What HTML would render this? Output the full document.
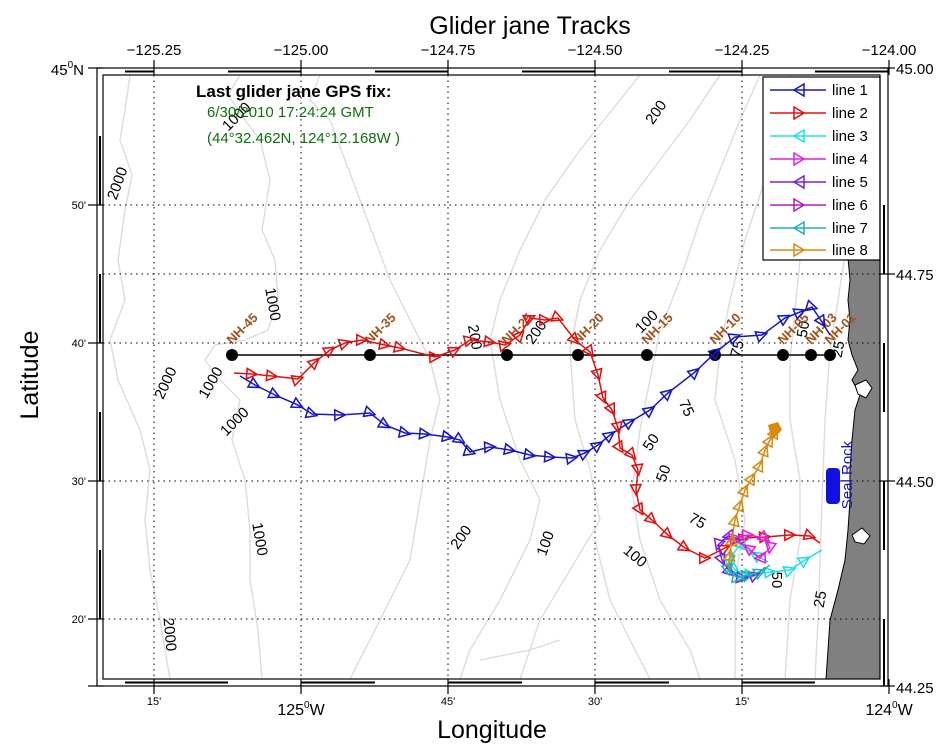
<!DOCTYPE html>
<html><head><meta charset="utf-8"><style>
html,body{margin:0;padding:0;background:#fff;}
svg{display:block;font-family:"Liberation Sans",sans-serif;}
</style></head><body>
<svg width="950" height="748" viewBox="0 0 950 748" xmlns="http://www.w3.org/2000/svg">
<defs>
<marker id="mb" viewBox="0 0 10 10" refX="5" refY="5" markerWidth="13" markerHeight="13" orient="auto-start-reverse" markerUnits="userSpaceOnUse"><path d="M9,1 L1,5 L9,9 Z" fill="none" stroke="#1818c0" stroke-width="1.2"/></marker>
<marker id="mr" viewBox="0 0 10 10" refX="5" refY="5" markerWidth="13" markerHeight="13" orient="auto" markerUnits="userSpaceOnUse"><path d="M1,1 L9,5 L1,9 Z" fill="none" stroke="#e01010" stroke-width="1.2"/></marker>
<marker id="mc" viewBox="0 0 10 10" refX="5" refY="5" markerWidth="13" markerHeight="13" orient="auto" markerUnits="userSpaceOnUse"><path d="M9,1 L1,5 L9,9 Z" fill="none" stroke="#20e0e0" stroke-width="1.2"/></marker>
<marker id="mm" viewBox="0 0 10 10" refX="5" refY="5" markerWidth="13" markerHeight="13" orient="auto" markerUnits="userSpaceOnUse"><path d="M1,1 L9,5 L1,9 Z" fill="none" stroke="#e020e0" stroke-width="1.2"/></marker>
<marker id="mp" viewBox="0 0 10 10" refX="5" refY="5" markerWidth="13" markerHeight="13" orient="auto" markerUnits="userSpaceOnUse"><path d="M9,1 L1,5 L9,9 Z" fill="none" stroke="#7a20e0" stroke-width="1.2"/></marker>
<marker id="mt" viewBox="0 0 10 10" refX="5" refY="5" markerWidth="13" markerHeight="13" orient="auto" markerUnits="userSpaceOnUse"><path d="M9,1 L1,5 L9,9 Z" fill="none" stroke="#20b0b8" stroke-width="1.2"/></marker>
<marker id="mo" viewBox="0 0 10 10" refX="5" refY="5" markerWidth="13" markerHeight="13" orient="auto" markerUnits="userSpaceOnUse"><path d="M1,1 L9,5 L1,9 Z" fill="none" stroke="#d98a10" stroke-width="1.2"/></marker>
</defs>

<text x="530" y="34" font-size="25" text-anchor="middle">Glider jane Tracks</text>

<g fill="none" stroke="#dcdcdc" stroke-width="1.4">
<path d="M130,75 L125,110 L120,140 L132,175 L125,210 L118,260 L125,300 L110,340 L118,380 L140,430 L150,470 L145,520 L150,570 L160,620 L170,679"/>
<path d="M240,75 L228,95 L245,120 L260,140 L270,180 L262,230 L275,260 L278,300 L268,330 L245,340 L215,345 L205,360 L220,380 L240,400 L232,440 L245,480 L250,530 L250,580 L258,630 L262,679"/>
<path d="M320,75 L310,100 L330,120 L345,160 L360,200 L375,240 L390,280 L410,320 L430,360 L440,400 L430,440 L420,500 L410,560 L380,620 L350,679"/>
<path d="M640,75 L620,100 L580,150 L545,200 L520,250 L500,300 L490,340 L500,400 L520,460 L540,500 L530,540 L500,600 L470,650 L460,679"/>
<path d="M720,75 L690,120 L660,160 L630,200 L600,250 L580,300 L570,350 L575,420 L590,470 L600,520 L570,570 L540,620 L520,679"/>
<path d="M760,75 L740,120 L720,170 L700,220 L680,280 L660,330 L650,380 L640,430 L632,490 L640,540 L660,600 L690,650 L700,679"/>
<path d="M790,75 L780,130 L765,180 L745,240 L730,300 L720,350 L715,400 L735,460 L745,520 L735,580 L735,679"/>
<path d="M820,80 L812,140 L805,200 L800,260 L795,310 L790,360 L790,420 L800,480 L800,540 L790,600 L785,679"/>
<path d="M845,255 L838,300 L830,350 L825,420 L822,500 L820,560 L818,620 L815,679"/>
<path d="M595,540 L610,600 L630,640 L650,679"/>
<path d="M480,660 L530,650 L560,640"/>
</g>
<g font-size="15" fill="#000">
<text transform="translate(122,185) rotate(-70)" text-anchor="middle">2000</text>
<text transform="translate(240,120) rotate(-45)" text-anchor="middle">1000</text>
<text transform="translate(268,305) rotate(80)" text-anchor="middle">1000</text>
<text transform="translate(170,385) rotate(-65)" text-anchor="middle">2000</text>
<text transform="translate(215,385) rotate(-60)" text-anchor="middle">1000</text>
<text transform="translate(238,425) rotate(-45)" text-anchor="middle">1000</text>
<text transform="translate(255,540) rotate(80)" text-anchor="middle">1000</text>
<text transform="translate(165,635) rotate(85)" text-anchor="middle">2000</text>
<text transform="translate(660,115) rotate(-55)" text-anchor="middle">200</text>
<text transform="translate(470,338) rotate(80)" text-anchor="middle">200</text>
<text transform="translate(540,335) rotate(-55)" text-anchor="middle">200</text>
<text transform="translate(465,540) rotate(-55)" text-anchor="middle">200</text>
<text transform="translate(550,545) rotate(-70)" text-anchor="middle">100</text>
<text transform="translate(632,560) rotate(40)" text-anchor="middle">100</text>
<text transform="translate(650,325) rotate(-45)" text-anchor="middle">100</text>
<text transform="translate(682,410) rotate(65)" text-anchor="middle">75</text>
<text transform="translate(742,350) rotate(-75)" text-anchor="middle">75</text>
<text transform="translate(695,525) rotate(30)" text-anchor="middle">75</text>
<text transform="translate(655,445) rotate(-55)" text-anchor="middle">50</text>
<text transform="translate(668,475) rotate(-70)" text-anchor="middle">50</text>
<text transform="translate(808,330) rotate(-80)" text-anchor="middle">50</text>
<text transform="translate(772,580) rotate(90)" text-anchor="middle">50</text>
<text transform="translate(825,600) rotate(-80)" text-anchor="middle">25</text>
<text transform="translate(843,350) rotate(-80)" text-anchor="middle">25</text>
</g>

<path d="M848,258 L880,258 L880,679 L826,679 L828,650 L830,620 L838,590 L845,560 L848,530 L850,500 L850,470 L852,440 L855,410 L860,395 L852,380 L858,370 L852,355 L848,340 L850,320 L848,300 L850,280 Z" fill="#808080" stroke="#000" stroke-width="1"/>
<path d="M855,385 L866,380 L872,388 L866,398 L858,394 Z M852,535 L862,528 L870,536 L864,544 L855,542 Z" fill="#fff" stroke="#000" stroke-width="1"/>

<g stroke="#000" stroke-width="1" stroke-dasharray="1.5,4">
<line x1="154" y1="75" x2="154" y2="679"/><line x1="301" y1="75" x2="301" y2="679"/>
<line x1="448" y1="75" x2="448" y2="679"/><line x1="595" y1="75" x2="595" y2="679"/>
<line x1="742" y1="75" x2="742" y2="679"/>
<line x1="103" y1="205" x2="880" y2="205"/><line x1="103" y1="274" x2="880" y2="274"/>
<line x1="103" y1="343" x2="880" y2="343"/><line x1="103" y1="481" x2="880" y2="481"/>
<line x1="103" y1="619" x2="880" y2="619"/>
</g>

<line x1="232" y1="355" x2="830" y2="355" stroke="#000" stroke-width="1.5"/>
<g fill="#000">
<circle cx="232" cy="355" r="6"/><circle cx="370" cy="355" r="6"/><circle cx="507" cy="355" r="6"/>
<circle cx="578" cy="355" r="6"/><circle cx="647" cy="355" r="6"/><circle cx="715" cy="355" r="6"/>
<circle cx="783" cy="355" r="6"/><circle cx="811" cy="355" r="6"/><circle cx="830" cy="355" r="6"/>
</g>
<g font-size="13" font-weight="bold" fill="#a0521a">
<text transform="translate(232,345) rotate(-45)">NH-45</text>
<text transform="translate(370,345) rotate(-45)">NH-35</text>
<text transform="translate(507,345) rotate(-45)">NH-25</text>
<text transform="translate(578,345) rotate(-45)">NH-20</text>
<text transform="translate(647,345) rotate(-45)">NH-15</text>
<text transform="translate(715,345) rotate(-45)">NH-10</text>
<text transform="translate(783,345) rotate(-45)">NH-05</text>
<text transform="translate(811,345) rotate(-45)">NH-03</text>
<text transform="translate(830,345) rotate(-45)">NH-01</text>
</g>

<polyline fill="none" stroke="#1818c0" stroke-width="1.5" marker-mid="url(#mb)" points="830,335 822,322 812,307 800,312 785,318 762,335 735,337 716,352 695,372 668,393 650,410 630,422 610,435 598,445 585,453 572,458 550,457 530,455 510,450 490,447 470,452 460,440 448,437 425,434 405,433 385,425 370,413 340,415 312,414 298,405 275,395 255,385 240,376"/>
<polyline fill="none" stroke="#e01010" stroke-width="1.5" marker-mid="url(#mr)" points="234,373 252,374 272,376 298,379 315,362 330,350 345,343 362,340 385,345 400,348 435,357 455,350 470,340 490,342 505,345 520,335 530,318 545,320 558,318 575,340 590,352 598,375 603,398 612,410 618,428 620,448 632,455 638,470 636,490 640,510 652,520 668,535 685,548 705,558 725,548 745,538 765,537 790,535 810,536 820,543"/>
<polyline fill="none" stroke="#20e0e0" stroke-width="1.5" marker-mid="url(#mc)" points="822,550 805,560 790,570 770,572 750,575 735,570 728,560 740,545 755,555 768,562"/>
<polyline fill="none" stroke="#e020e0" stroke-width="1.5" marker-mid="url(#mm)" points="722,540 735,538 748,535 765,538 770,548 760,558 748,548 735,540"/>
<polyline fill="none" stroke="#7a20e0" stroke-width="1.5" marker-mid="url(#mp)" points="765,568 755,575 742,578 730,572 722,560 718,545 728,536 740,540"/>
<polyline fill="none" stroke="#20b0b8" stroke-width="1.5" marker-mid="url(#mt)" points="770,565 760,572 748,575 738,578 728,570 735,555"/>
<polyline fill="none" stroke="#d98a10" stroke-width="1.5" marker-mid="url(#mo)" points="728,568 730,555 732,540 735,520 740,505 745,490 752,478 760,465 765,450 770,440 775,432 778,425"/>
<path d="M768,425 L778,422 L782,430 L772,440 Z" fill="#d98a10"/>

<rect x="826" y="468" width="14" height="36" rx="4" fill="#1010e0"/>
<text transform="translate(852,475) rotate(-90)" font-size="15" fill="#1010c0" text-anchor="middle">Seal Rock</text>

<text x="196" y="97" font-size="17" font-weight="bold">Last glider jane GPS fix:</text>
<text x="207" y="117" font-size="15" fill="#107010">6/30/2010 17:24:24 GMT</text>
<text x="207" y="143" font-size="15" fill="#107010">(44°32.462N, 124°12.168W )</text>

<rect x="763" y="77" width="117" height="183" fill="#fff" stroke="#000" stroke-width="1.2"/>
<g font-size="15" stroke-width="1.5">
<line x1="770" y1="90" x2="826" y2="90" stroke="#1818c0"/><path d="M804,84 L794,90 L804,96 Z" fill="none" stroke="#1818c0"/><text x="832" y="95">line 1</text>
<line x1="770" y1="113" x2="826" y2="113" stroke="#e01010"/><path d="M794,107 L804,113 L794,119 Z" fill="none" stroke="#e01010"/><text x="832" y="118">line 2</text>
<line x1="770" y1="136" x2="826" y2="136" stroke="#20e0e0"/><path d="M804,130 L794,136 L804,142 Z" fill="none" stroke="#20e0e0"/><text x="832" y="141">line 3</text>
<line x1="770" y1="159" x2="826" y2="159" stroke="#e020e0"/><path d="M794,153 L804,159 L794,165 Z" fill="none" stroke="#e020e0"/><text x="832" y="164">line 4</text>
<line x1="770" y1="182" x2="826" y2="182" stroke="#7a20e0"/><path d="M804,176 L794,182 L804,188 Z" fill="none" stroke="#7a20e0"/><text x="832" y="187">line 5</text>
<line x1="770" y1="205" x2="826" y2="205" stroke="#b020c0"/><path d="M794,199 L804,205 L794,211 Z" fill="none" stroke="#b020c0"/><text x="832" y="210">line 6</text>
<line x1="770" y1="228" x2="826" y2="228" stroke="#20b0b8"/><path d="M804,222 L794,228 L804,234 Z" fill="none" stroke="#20b0b8"/><text x="832" y="233">line 7</text>
<line x1="770" y1="250" x2="826" y2="250" stroke="#d98a10"/><path d="M794,244 L804,250 L794,256 Z" fill="none" stroke="#d98a10"/><text x="832" y="255">line 8</text>
</g>

<rect x="97" y="68" width="791" height="618" fill="none" stroke="#000" stroke-width="1.2"/>
<rect x="103" y="75" width="777" height="604" fill="none" stroke="#000" stroke-width="1.2"/>
<g stroke="#000" stroke-width="2">
<line x1="125" y1="71.5" x2="154" y2="71.5"/><line x1="228" y1="71.5" x2="301" y2="71.5"/>
<line x1="375" y1="71.5" x2="448" y2="71.5"/><line x1="522" y1="71.5" x2="595" y2="71.5"/>
<line x1="669" y1="71.5" x2="742" y2="71.5"/><line x1="815" y1="71.5" x2="888" y2="71.5"/>
<line x1="125" y1="682.5" x2="228" y2="682.5"/><line x1="301" y1="682.5" x2="375" y2="682.5"/>
<line x1="448" y1="682.5" x2="522" y2="682.5"/><line x1="595" y1="682.5" x2="669" y2="682.5"/>
<line x1="742" y1="682.5" x2="815" y2="682.5"/>
<line x1="100" y1="136" x2="100" y2="205"/><line x1="100" y1="274" x2="100" y2="343"/>
<line x1="100" y1="412" x2="100" y2="481"/><line x1="100" y1="550" x2="100" y2="619"/>
<line x1="884" y1="205" x2="884" y2="274"/><line x1="884" y1="343" x2="884" y2="412"/>
<line x1="884" y1="481" x2="884" y2="550"/><line x1="884" y1="619" x2="884" y2="686"/>
</g>
<g stroke="#000" stroke-width="1.2">
<line x1="154" y1="60" x2="154" y2="75"/><line x1="301" y1="60" x2="301" y2="75"/>
<line x1="448" y1="60" x2="448" y2="75"/><line x1="595" y1="60" x2="595" y2="75"/>
<line x1="742" y1="60" x2="742" y2="75"/><line x1="889" y1="60" x2="889" y2="75"/>
<line x1="154" y1="679" x2="154" y2="694"/><line x1="301" y1="679" x2="301" y2="694"/>
<line x1="448" y1="679" x2="448" y2="694"/><line x1="595" y1="679" x2="595" y2="694"/>
<line x1="742" y1="679" x2="742" y2="694"/><line x1="889" y1="679" x2="889" y2="694"/>
<line x1="88" y1="68" x2="103" y2="68"/><line x1="88" y1="205" x2="103" y2="205"/>
<line x1="88" y1="343" x2="103" y2="343"/><line x1="88" y1="481" x2="103" y2="481"/>
<line x1="88" y1="619" x2="103" y2="619"/><line x1="88" y1="686" x2="103" y2="686"/>
<line x1="880" y1="68" x2="895" y2="68"/><line x1="880" y1="274" x2="895" y2="274"/>
<line x1="880" y1="481" x2="895" y2="481"/><line x1="880" y1="686" x2="895" y2="686"/>
</g>

<g font-size="15" text-anchor="middle">
<text x="154" y="55">−125.25</text><text x="301" y="55">−125.00</text>
<text x="448" y="55">−124.75</text><text x="595" y="55">−124.50</text>
<text x="742" y="55">−124.25</text><text x="889" y="55">−124.00</text>
</g>
<g font-size="15">
<text x="896" y="74">45.00</text><text x="896" y="280">44.75</text>
<text x="896" y="487">44.50</text><text x="896" y="693">44.25</text>
<text x="84" y="75" text-anchor="end">45<tspan font-size="10" dy="-7">0</tspan><tspan dy="7">N</tspan></text>
</g>
<g font-size="11" text-anchor="end">
<text x="86" y="209">50'</text><text x="86" y="347">40'</text>
<text x="86" y="485">30'</text><text x="86" y="623">20'</text>
</g>
<g font-size="11" text-anchor="middle">
<text x="154" y="705">15'</text><text x="448" y="705">45'</text>
<text x="595" y="705">30'</text><text x="742" y="705">15'</text>
</g>
<g font-size="16" text-anchor="middle">
<text x="301" y="715">125<tspan font-size="10" dy="-7">0</tspan><tspan dy="7">W</tspan></text>
<text x="889" y="715">124<tspan font-size="10" dy="-7">0</tspan><tspan dy="7">W</tspan></text>
</g>
<text x="492" y="738" font-size="25" text-anchor="middle">Longitude</text>
<text transform="translate(38,375) rotate(-90)" font-size="25" text-anchor="middle">Latitude</text>
</svg>
</body></html>
